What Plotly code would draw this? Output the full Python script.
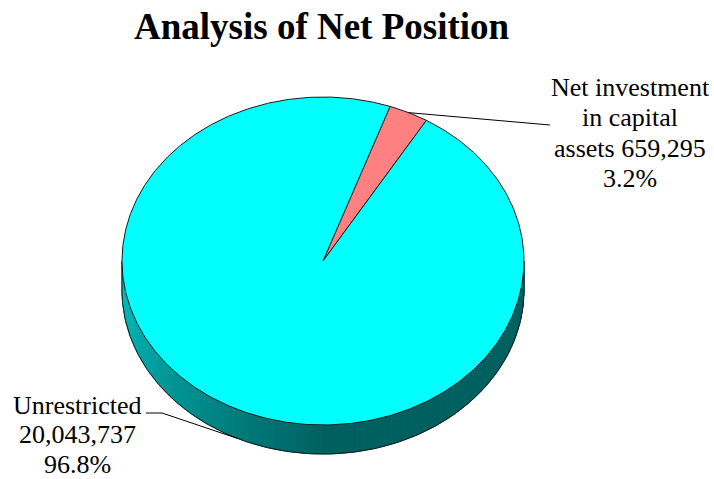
import numpy as np
import plotly.graph_objects as go

# ---- data ----
title = "Analysis of Net Position"
categories = ["Net investment in capital assets", "Unrestricted"]
values = [659295, 20043737]
colors = ["#FF8080", "#00FFFF"]

# ---- geometry (pixel-like axis units of the 714x479 window) ----
W, H = 714, 479
CX, CY = 323, 261
RX, RY = 201, 164
DEPTH = 29
START = 19.5  # degrees clockwise from top where first slice starts

total = sum(values)
pcts = [100 * v / total for v in values]

label_lines = [
    ["Net investment", "in capital", f"assets {values[0]:,}", f"{pcts[0]:.1f}%"],
    ["Unrestricted", f"{values[1]:,}", f"{pcts[1]:.1f}%"],
]
label_pos = [  # (center x, first line y, line step)
    (630, 87, 30.5),
    (77, 405, 29.5),
]
leader_ends = [
    [(550, 125)],
    [(162, 413), (146, 413)],
]


def pt(theta, dy=0.0):
    t = np.radians(theta)
    return CX + RX * np.sin(t), CY - RY * np.cos(t) + dy


def hex2rgb(h):
    h = h.lstrip("#")
    return [int(h[i:i + 2], 16) for i in (0, 2, 4)]


# slice angles
angles = []
a = START
for v in values:
    b = a + 360 * v / total
    angles.append((a, b))
    a = b


def slice_at(theta):
    for i, (a0, a1) in enumerate(angles):
        for k in (-360, 0, 360):
            if a0 <= theta + k < a1:
                return i
    return len(values) - 1


fig = go.Figure()

# ---- side (visible part from 90 to 270 deg) ----
n_strips = 90
edges = np.linspace(90, 270, n_strips + 1)
for i in range(n_strips):
    t0, t1 = edges[i], edges[i + 1]
    mid = 0.5 * (t0 + t1)
    si = slice_at(mid)
    frac = (mid - 90) / 180
    f = 0.38 + max(0.0, frac - 0.5) / 0.5 * 0.38
    r, g, bb = [int(c * f) for c in hex2rgb(colors[si])]
    col = f"rgb({r},{g},{bb})"
    ts = np.linspace(t0, t1, 4)
    xt, yt = pt(ts)
    xb, yb = pt(ts[::-1], DEPTH)
    xs = np.concatenate([xt, xb, xt[:1]])
    ys = np.concatenate([yt, yb, yt[:1]])
    fig.add_trace(go.Scatter(x=xs, y=ys, mode="lines", fill="toself",
                             fillcolor=col, line=dict(color=col, width=1),
                             hoverinfo="skip"))

# side outlines
ts = np.linspace(90, 270, 200)
xb, yb = pt(ts, DEPTH)
fig.add_trace(go.Scatter(x=xb, y=yb, mode="lines",
                         line=dict(color="#1a1a1a", width=1), hoverinfo="skip"))
for th in (90, 270):
    x0, y0 = pt(th)
    x1, y1 = pt(th, DEPTH)
    fig.add_trace(go.Scatter(x=[x0, x1], y=[y0, y1], mode="lines",
                             line=dict(color="#1a1a1a", width=1), hoverinfo="skip"))

# ---- top faces ----
for i, (a0, a1) in enumerate(angles):
    n = max(3, int((a1 - a0) * 2))
    ts = np.linspace(a0, a1, n)
    xs, ys = pt(ts)
    xs = np.concatenate([[CX], xs, [CX]])
    ys = np.concatenate([[CY], ys, [CY]])
    fig.add_trace(go.Scatter(x=xs, y=ys, mode="lines", fill="toself",
                             fillcolor=colors[i],
                             line=dict(color="#1a1a1a", width=1),
                             hoverinfo="skip"))

# ---- leader lines & labels ----
annotations = []
for i, (a0, a1) in enumerate(angles):
    mid = 0.5 * (a0 + a1)
    mx, my = pt(mid)
    if 90 < (mid % 360) < 270:
        my += DEPTH
    xs = [mx] + [p[0] for p in leader_ends[i]]
    ys = [my] + [p[1] for p in leader_ends[i]]
    fig.add_trace(go.Scatter(x=xs, y=ys, mode="lines",
                             line=dict(color="black", width=1), hoverinfo="skip"))
    lx, ly, step = label_pos[i]
    for j, line in enumerate(label_lines[i]):
        annotations.append(dict(x=lx, y=ly + j * step, xref="x", yref="y",
                                text=line, showarrow=False,
                                xanchor="center", yanchor="middle",
                                font=dict(family="Liberation Serif", size=26,
                                          color="black")))

annotations.append(dict(x=322, y=26, xref="x", yref="y",
                        text=f"<b>{title}</b>", showarrow=False,
                        xanchor="center", yanchor="middle",
                        font=dict(family="Liberation Serif", size=37,
                                  color="black")))

fig.update_layout(
    width=W, height=H,
    margin=dict(l=0, r=0, t=0, b=0),
    paper_bgcolor="white", plot_bgcolor="white",
    showlegend=False, hovermode=False,
    xaxis=dict(range=[0, W], visible=False, fixedrange=True),
    yaxis=dict(range=[H, 0], visible=False, fixedrange=True),
    annotations=annotations,
)

fig.write_html(
    "out.html",
    config={"displayModeBar": False, "staticPlot": True},
    post_script="document.body.style.margin='0';document.body.style.overflow='hidden';",
)
